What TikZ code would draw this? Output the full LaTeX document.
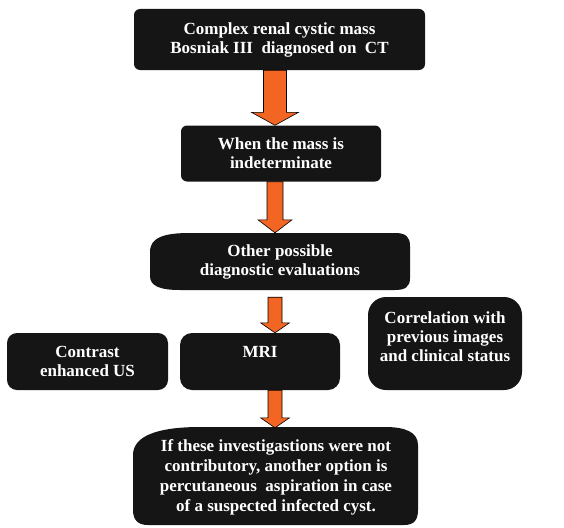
\documentclass[tikz,border=0pt]{standalone}
\usepackage{fontspec}
\setmainfont{Liberation Serif}
\usetikzlibrary{calc}
\definecolor{boxfill}{HTML}{151515}
\definecolor{arroworange}{HTML}{F26522}
\newcommand{\blockarrow}[7]{%
  \draw[barrow] let \p1=($(#1.south)+(0,#7)$), \p2=(#2.north) in
    ({(#3-#4)*1pt},\y1) -- ({(#3+#4)*1pt},\y1) -- ({(#3+#4)*1pt},{\y2+#6pt})
    -- ({(#3+#5)*1pt},{\y2+#6pt}) -- ({#3*1pt},\y2) -- ({(#3-#5)*1pt},{\y2+#6pt})
    -- ({(#3-#4)*1pt},{\y2+#6pt}) -- cycle;}
\begin{document}
\begin{tikzpicture}[x=1pt,y=-1pt,
  boxtext/.style={text=white, font=\fontsize{17}{19}\selectfont\bfseries, align=center, inner sep=0pt},
  box/.style={boxtext, fill=boxfill, rounded corners=6pt},
  barrow/.style={fill=arroworange, draw=black, line width=0.6pt, line join=miter}]
\useasboundingbox (0,0) rectangle (564,527);

% box 1
\node[box, minimum width=291pt, minimum height=61pt] (b1) at (279.5,39.5)
  {Complex renal cystic mass\\Bosniak III\ \ diagnosed on\ \ CT};
% box 2
\node[box, minimum width=200pt, minimum height=56pt] (b2) at (281,153.5)
  {When the mass is\\indeterminate};
% box 3 (custom outline)
\fill[boxfill] (150,252) .. controls (150,237) and (165,233) .. (190,233) -- (395,233)
  .. controls (406,233) and (410,237) .. (410,246) -- (410,278)
  .. controls (410,287) and (405,290) .. (395,290) -- (180,290)
  .. controls (160,290) and (150,286) .. (150,276) -- cycle;
\node[boxtext, minimum width=260pt, minimum height=57pt] (b3) at (280,261.5)
  {Other possible\\diagnostic evaluations};
% box 4
\node[box, rounded corners=10pt, minimum width=161pt, minimum height=57pt] (b4) at (87.5,361.5)
  {Contrast\\enhanced US};
% box 5
\node[box, rounded corners=12pt, minimum width=160pt, minimum height=57pt] (b5) at (260,361.5)
  {MRI\\\mbox{}};
% box 6
\node[box, rounded corners=18pt, minimum width=154pt, minimum height=93pt] (b6) at (445,343.5)
  {Correlation with\\previous images\\and clinical status\\[-6pt]\mbox{}};
% box 7 (custom outline)
\fill[boxfill] (133,455) .. controls (133,435) and (160,427) .. (200,427) -- (385,427)
  .. controls (405,427) and (418,432) .. (418,445) -- (418,510)
  .. controls (418,520) and (414,525) .. (404,525) -- (148,525)
  .. controls (138,525) and (133,520) .. (133,510) -- cycle;
\node[boxtext, font=\fontsize{17}{20}\selectfont\bfseries, minimum width=285pt, minimum height=98pt] (b7) at (276,477)
  {If these investigastions were not\\contributory, another option is\\percutaneous\ \ aspiration in case\\of a suspected infected cyst.};

% block arrows
\blockarrow{b1}{b2}{275}{11.5}{23.5}{13}{0}
\blockarrow{b2}{b3}{275}{8}{17}{13}{0}
\blockarrow{b3}{b5}{275}{7}{14.5}{10}{7}
\blockarrow{b5}{b7}{275}{7}{14.5}{10}{0}
\end{tikzpicture}
\end{document}
